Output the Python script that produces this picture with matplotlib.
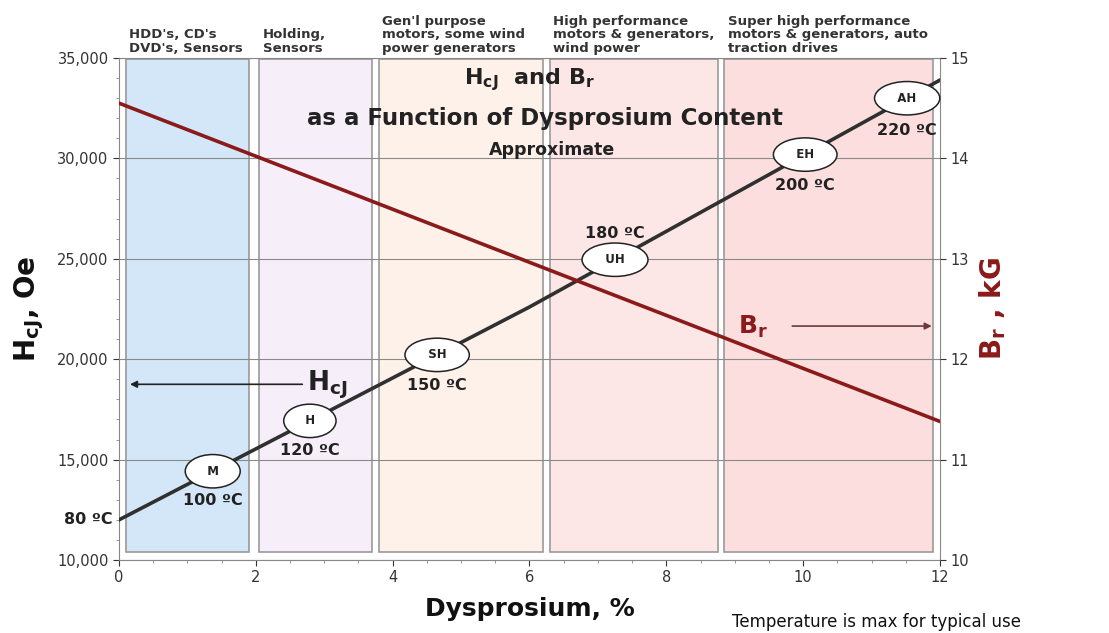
import matplotlib.pyplot as plt
import numpy as np
from matplotlib.ticker import FuncFormatter, MultipleLocator

# Dysprosium content (%) and properties
dy_hcj = [0, 6, 12]
hcj_oe = [12000, 22600, 33900]
dy_br = [0, 12]
br_kg = [14.55, 11.38]

# application bands along the Dy axis
band_start = [0.1, 2.05, 3.8, 6.3, 8.85]
band_end = [1.9, 3.7, 6.2, 8.75, 11.9]
band_colors = ["#d3e7f8", "#f6eff9", "#fdf1ea", "#fde6e6", "#fcdede"]
band_labels = [
    "HDD's, CD's\nDVD's, Sensors",
    "Holding,\nSensors",
    "Gen'l purpose\nmotors, some wind\npower generators",
    "High performance\nmotors & generators,\nwind power",
    "Super high performance\nmotors & generators, auto\ntraction drives",
]

# magnet grades placed on the HcJ line
grades = ["M", "H", "SH", "UH", "EH", "AH"]
grade_dy = [1.37, 2.79, 4.65, 7.25, 10.03, 11.52]
grade_temps = ["100 ºC", "120 ºC", "150 ºC", "180 ºC", "200 ºC", "220 ºC"]

dark_red = "#8b1a1a"

fig = plt.figure(figsize=(11.09, 6.33), dpi=100)
ax = fig.add_axes([0.1073, 0.1153, 0.7403, 0.7931])
ax.set_xlim(0, 12)
ax.set_ylim(10000, 35000)

for x0, x1, c in zip(band_start, band_end, band_colors):
    ax.add_patch(plt.Rectangle((x0, 10400), x1 - x0, 24550, facecolor=c,
                               edgecolor="#9a9a9a", lw=1.2, zorder=0))

ax.yaxis.set_major_locator(MultipleLocator(5000))
ax.yaxis.set_minor_locator(MultipleLocator(1000))
ax.xaxis.set_major_locator(MultipleLocator(2))
ax.xaxis.set_minor_locator(MultipleLocator(0.5))
ax.yaxis.set_major_formatter(FuncFormatter(lambda v, p: f"{int(v):,}"))
ax.grid(axis="y", which="major", color="#8a8a8a", lw=0.8, zorder=1)
ax.tick_params(labelsize=10.5, colors="#333333", length=4)
ax.tick_params(which="minor", length=2, colors="#888888")
for s in ax.spines.values():
    s.set_color("#888888")

ax.plot(dy_hcj, hcj_oe, color="#303030", lw=2.6, zorder=3)

ax2 = ax.twinx()
ax2.set_ylim(10, 15)
ax2.yaxis.set_major_locator(MultipleLocator(1))
ax2.tick_params(labelsize=10.5, colors="#333333", length=4)
for s in ax2.spines.values():
    s.set_visible(False)
ax2.plot(dy_br, br_kg, color=dark_red, lw=2.6, zorder=3)

# offset of the temperature text from each grade ellipse (Oe)
temp_offset = {"M": -1450, "H": -1500, "SH": -1500, "UH": 1300, "EH": -1550, "AH": -1600}

grade_hcj = np.interp(grade_dy, dy_hcj, hcj_oe)
for g, gx, gy, t in zip(grades, grade_dy, grade_hcj, grade_temps):
    ax.text(gx, gy, f"  {g}  ", ha="center", va="center", fontsize=8.5,
            fontweight="bold", color="#222222", zorder=5,
            bbox=dict(boxstyle="ellipse,pad=0.45", fc="white", ec="#222222", lw=1.1))
    ax.text(gx, gy + temp_offset[g], t, ha="center", va="center", fontsize=11.5,
            fontweight="bold", color="#222222", zorder=5)

ax.text(-0.1, hcj_oe[0], "80 ºC", ha="right", va="center", fontsize=11.5,
        fontweight="bold", color="#222222")

# inline labels with arrows
ax.annotate("", xy=(0.12, 18750), xytext=(2.72, 18750),
            arrowprops=dict(arrowstyle="-|>", color="#222222", lw=1.2))
ax.text(2.75, 18700, "H$_{\\mathbf{cJ}}$", fontsize=19, fontweight="bold",
        color="#222222", va="center", ha="left")
ax.text(9.05, 21600, "B$_{\\mathbf{r}}$", fontsize=18, fontweight="bold",
        color=dark_red, va="center", ha="left")
ax.annotate("", xy=(11.92, 21650), xytext=(9.8, 21650),
            arrowprops=dict(arrowstyle="-|>", color="#6a3a3a", lw=1.2))

ax.annotate("Magnet\ngrade\nsuffix", xy=(12.02, 33000), xycoords="data",
            xytext=(1020 / 1109, 1 - 92 / 633), textcoords="figure fraction",
            fontsize=12, color="#222222", va="center", ha="left",
            arrowprops=dict(arrowstyle="-|>", color="#222222", lw=1,
                            shrinkA=22, shrinkB=0))

# chart titles inside the plot
ax.text(6.0, 33900, "H$_{\\mathbf{cJ}}$  and B$_{\\mathbf{r}}$", fontsize=16,
        fontweight="bold", color="#222222", ha="center", va="center")
ax.text(6.23, 32000, "as a Function of Dysprosium Content", fontsize=16.5,
        fontweight="bold", color="#222222", ha="center", va="center")
ax.text(6.33, 30400, "Approximate", fontsize=12.5, fontweight="bold",
        color="#222222", ha="center", va="center")

for x0, lab in zip(band_start, band_labels):
    ax.text(x0 + 0.05, 35150, lab, fontsize=9.5, fontweight="bold",
            color="#333333", ha="left", va="bottom", linespacing=1.05)

ax.set_ylabel("H$_{\\mathbf{cJ}}$, Oe", fontsize=20, fontweight="bold",
              color="#111111", labelpad=8)
ax2.set_ylabel("B$_{\\mathbf{r}}$ , kG", fontsize=20, fontweight="bold",
               color=dark_red, labelpad=6)
ax.set_xlabel("Dysprosium, %", fontsize=18, fontweight="bold",
              color="#111111", labelpad=8)

fig.text(732 / 1109, 2 / 633, "Temperature is max for typical use",
         fontsize=12, color="#111111", ha="left", va="bottom")

fig.savefig("out.png", dpi=100)
